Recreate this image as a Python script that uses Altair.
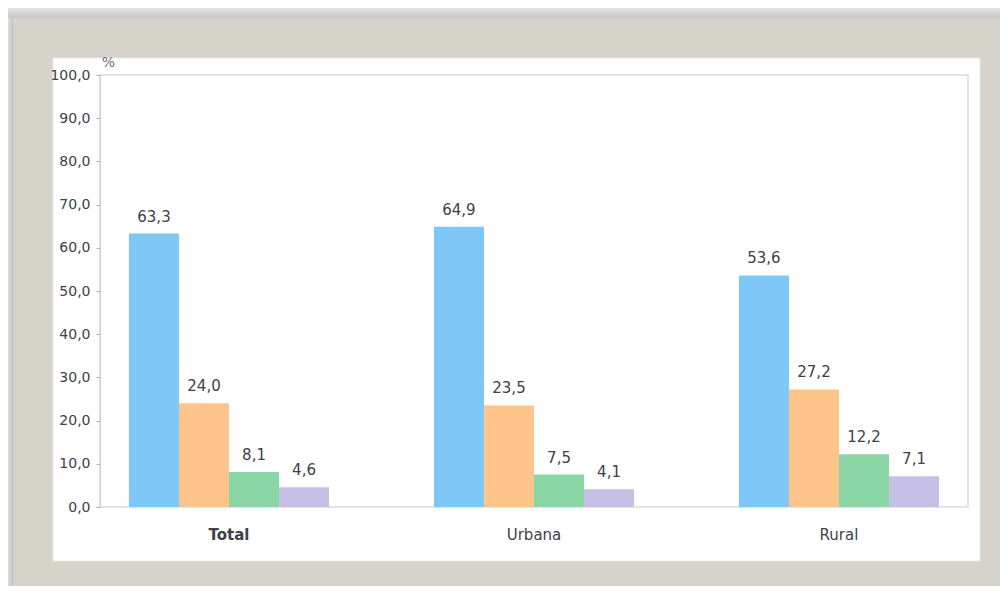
import altair as alt
import pandas as pd

grupos = ["Total", "Urbana", "Rural"]
series = ["Série 1", "Série 2", "Série 3", "Série 4"]
serie1 = [63.3, 64.9, 53.6]
serie2 = [24.0, 23.5, 27.2]
serie3 = [8.1, 7.5, 12.2]
serie4 = [4.6, 4.1, 7.1]
cores = ["#7ec8f7", "#fdc48c", "#8ad6a5", "#c6c0e6"]
y_ticks = [0, 10, 20, 30, 40, 50, 60, 70, 80, 90, 100]

rows = []
for s, vals in zip(series, [serie1, serie2, serie3, serie4]):
    for g, v in zip(grupos, vals):
        rows.append({"grupo": g, "serie": s, "valor": v})
df = pd.DataFrame(rows)

W, H = 868, 432
FONT = "DejaVu Sans"
TXT = "#3e4148"

one = alt.InlineData(values=[{"k": 0}])

top_shadow = alt.Chart(one).mark_rect(
    fill=alt.Gradient(gradient="linear",
                      stops=[alt.GradientStop(color="#e2e2e2", offset=0),
                             alt.GradientStop(color="#c6c6c6", offset=1)],
                      x1=0, x2=0, y1=0, y2=1)
).encode(x=alt.value(-92), x2=alt.value(900), y=alt.value(-67), y2=alt.value(-57))

left_shadow = alt.Chart(one).mark_rect(
    fill=alt.Gradient(gradient="linear",
                      stops=[alt.GradientStop(color="#e0e0e0", offset=0),
                             alt.GradientStop(color="#c2c2c2", offset=1)],
                      x1=0, x2=1, y1=0, y2=0)
).encode(x=alt.value(-92), x2=alt.value(-87), y=alt.value(-57), y2=alt.value(511))

panel = alt.Chart(one).mark_rect(fill="white", stroke="#e8e8e4", strokeWidth=1).encode(
    x=alt.value(-47), x2=alt.value(880), y=alt.value(-17), y2=alt.value(486))

frame = alt.Chart(one).mark_rect(fill="white", stroke="#dcdcdc", strokeWidth=1.5).encode(
    x=alt.value(0), x2=alt.value("width"), y=alt.value(0), y2=alt.value("height"))

x_enc = alt.X("grupo:N", sort=grupos,
              scale=alt.Scale(paddingInner=0.344, paddingOuter=0.095),
              axis=alt.Axis(title=None, labelAngle=0, ticks=False, domain=False,
                            labelPadding=20, labelFontSize=15, labelFont=FONT,
                            labelColor=TXT, zindex=1,
                            labelFontWeight={"condition": {"test": "datum.value === 'Total'", "value": "bold"}, "value": "normal"}))
xo_enc = alt.XOffset("serie:N", sort=series, scale=alt.Scale(paddingInner=0, paddingOuter=0))
y_enc = alt.Y("valor:Q", scale=alt.Scale(domain=[0, 100], nice=False),
              axis=alt.Axis(values=y_ticks, grid=False, title="%", titleAngle=0,
                            titleX=8, titleY=-9, titleAlign="center", titleBaseline="alphabetic",
                            titleFontSize=14, titleFontWeight="normal", titleColor="#6a6e78",
                            titleFont=FONT,
                            labelExpr="replace(format(datum.value, '.1f'), '.', ',')",
                            labelFontSize=14, labelFont=FONT, labelColor=TXT,
                            tickSize=4, tickColor="#b0b0b0", domainColor="#d0d0d0",
                            labelPadding=6, zindex=1))

bars = alt.Chart(df).mark_bar().encode(
    x=x_enc, xOffset=xo_enc, y=y_enc,
    color=alt.Color("serie:N", sort=series, scale=alt.Scale(domain=series, range=cores), legend=None),
)

labels = alt.Chart(df).transform_calculate(
    rot="replace(format(datum.valor, '.1f'), '.', ',')"
).mark_text(font=FONT, fontSize=15, color=TXT, baseline="alphabetic", dy=-12).encode(
    x=x_enc, xOffset=xo_enc, y=y_enc, text="rot:N")

chart = alt.layer(top_shadow, left_shadow, panel, frame, bars, labels).properties(
    width=W, height=H,
    autosize=alt.AutoSizeParams(type="none"),
    padding={"left": 92, "top": 67, "right": 32, "bottom": 79},
    background="#d6d3cb",
).configure_view(stroke=None)

chart.save("out.html", embed_options={"renderer": "svg", "actions": False})
